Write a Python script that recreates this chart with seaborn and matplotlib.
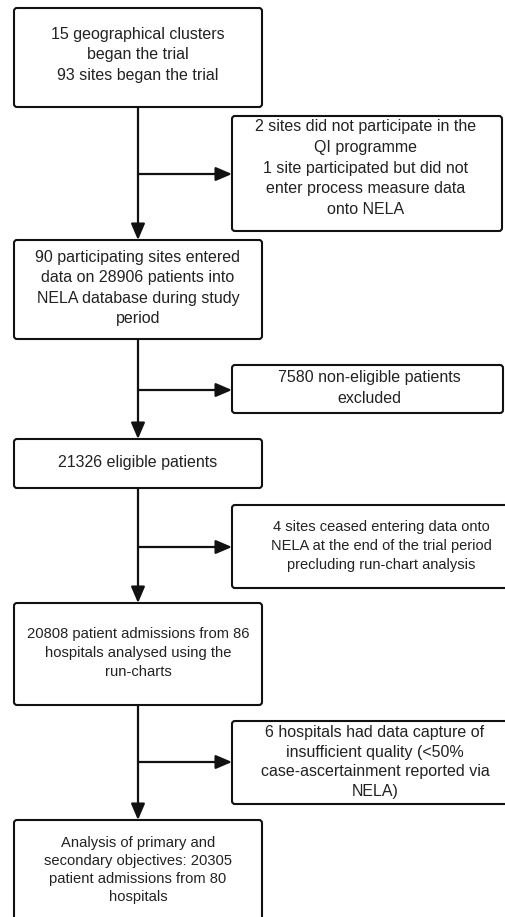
import matplotlib.pyplot as plt
import seaborn as sns
from matplotlib.patches import FancyBboxPatch

# flow chart text
main_steps = [
    "15 geographical clusters\nbegan the trial\n93 sites began the trial",
    "90 participating sites entered\ndata on 28906 patients into\nNELA database during study\nperiod",
    "21326 eligible patients",
    "20808 patient admissions from 86\nhospitals analysed using the\nrun-charts",
    "Analysis of primary and\nsecondary objectives: 20305\npatient admissions from 80\nhospitals",
]
exclusions = [
    "2 sites did not participate in the\nQI programme\n1 site participated but did not\nenter process measure data\nonto NELA",
    "7580 non-eligible patients\nexcluded",
    "4 sites ceased entering data onto\nNELA at the end of the trial period\nprecluding run-chart analysis",
    "6 hospitals had data capture of\ninsufficient quality (<50%\ncase-ascertainment reported via\nNELA)",
]

# layout in pixels (y downwards)
main_x = (14, 262)
main_top = [8, 240, 439, 603, 820]
main_bot = [107, 339, 488, 705, 935]
main_ty = [55, 288, 462, 653, 870]
main_fs = [11.5, 11.5, 11.5, 10.6, 10.6]
main_ls = [1.42, 1.42, 1.42, 1.44, 1.39]

side_left = 232
side_right = [502, 503, 530, 530]
side_top = [116, 365, 505, 721]
side_bot = [231, 413, 588, 804]
side_tx = [366, 369, 381, 375]
side_ty = [168, 388, 546, 762]
side_fs = [11.5, 11.5, 10.5, 11.5]
side_ls = [1.47, 1.51, 1.50, 1.38]
arrow_y = [174, 390, 547, 762]

line_c = "#111111"
text_c = "#222222"

sns.set_theme(style="white")
plt.rcParams["font.family"] = ["Liberation Sans", "DejaVu Sans"]

fig = plt.figure(figsize=(5.06, 9.17), dpi=100)
ax = fig.add_axes([0, 0, 1, 1])
ax.set_xlim(0, 506)
ax.set_ylim(917, 0)
ax.axis("off")


def box(x0, x1, y0, y1):
    ax.add_patch(FancyBboxPatch((x0, y0), x1 - x0, y1 - y0,
                                boxstyle="round,pad=0,rounding_size=3",
                                fc="white", ec=line_c, lw=1.5, zorder=2))


def arrow(x0, y0, x1, y1):
    ax.annotate("", xy=(x1, y1), xytext=(x0, y0),
                arrowprops=dict(arrowstyle="-|>,head_length=0.7,head_width=0.3",
                                color=line_c, lw=1.6, mutation_scale=14,
                                shrinkA=0, shrinkB=0), zorder=1)


cx = (main_x[0] + main_x[1]) / 2
for i, txt in enumerate(main_steps):
    box(main_x[0], main_x[1], main_top[i], main_bot[i])
    ax.text(cx, main_ty[i], txt, ha="center", va="center", fontsize=main_fs[i],
            color=text_c, linespacing=main_ls[i], zorder=3)
    if i + 1 < len(main_steps):
        arrow(cx, main_bot[i], cx, main_top[i + 1])

for i, txt in enumerate(exclusions):
    box(side_left, side_right[i], side_top[i], side_bot[i])
    ax.text(side_tx[i], side_ty[i], txt, ha="center", va="center",
            fontsize=side_fs[i], color=text_c, linespacing=side_ls[i], zorder=3)
    arrow(cx, arrow_y[i], side_left, arrow_y[i])

fig.savefig("out.png", dpi=100, facecolor="white")
